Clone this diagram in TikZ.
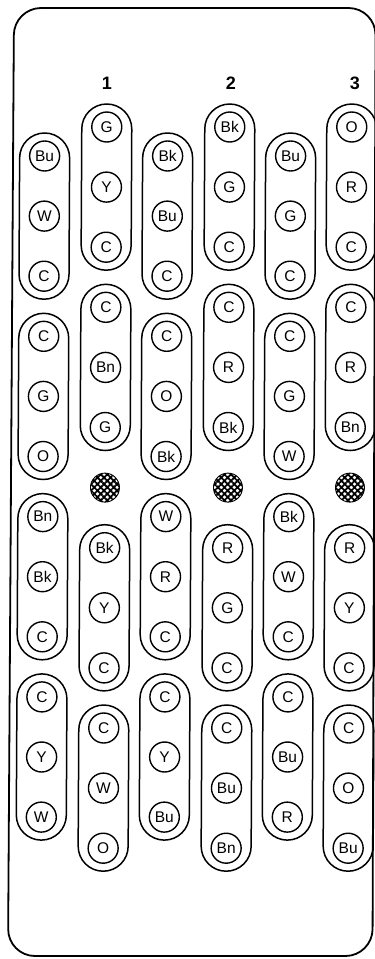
\documentclass[tikz,border=0pt]{standalone}
\usepackage{fontspec}
\setmainfont{Liberation Sans}
\usetikzlibrary{patterns.meta,calc}
\tikzset{
  lbl/.style={circle,draw,line width=1.4pt,minimum size=30pt,inner sep=0pt,font=\fontsize{15.5}{15.5}\selectfont},
  pill/.style={draw,line width=1.5pt},
  hatchdot/.style={circle,minimum size=29pt,inner sep=0pt,draw,line width=0.9pt,
    pattern={Hatch[angle=45,distance=4.6pt,line width=1.8pt]}},
  hdr/.style={font=\bfseries\fontsize{18}{18}\selectfont},
  frame/.style={line width=1.8pt,rounded corners=27pt}
}
\newcommand\pillpath[2]{%
  \draw[pill] let \p1=(#1), \p2=(#2) in
    (\x1-25pt,\y1-2pt) arc[start angle=180,end angle=0,radius=25pt]
    -- (\x2+25pt,\y2+2pt) arc[start angle=0,end angle=-180,radius=25pt] -- cycle;}
\begin{document}
\begin{tikzpicture}[x=1pt,y=-1pt]
\useasboundingbox (0,0) rectangle (375,959);
% outer housing
\draw[frame] (14,8) -- (8,956) -- (372.5,956) -- (375.6,8) -- cycle;
% column numbers
\node[hdr] (n1) at (107,83) {1};
\node[hdr] (n2) at (231,83) {2};
\node[hdr] (n3) at (355,83) {3};
% odd columns: 12 terminals, starting lower
\foreach \c/\bx/\ys/\list in {
  1/43/156/{Bu,W,C,C,G,O,Bn,Bk,C,C,Y,W},
  3/166/156/{Bk,Bu,C,C,O,Bk,W,R,C,C,Y,Bu},
  5/289/156/{Bu,G,C,C,G,W,Bk,W,C,C,Bu,R}}{
  \foreach \lab [count=\k from 0] in \list {
    \pgfmathsetmacro\yy{\ys+60.1*\k}
    \pgfmathsetmacro\xx{\bx-0.005*(\yy-480)}
    \node[lbl] (c\c-\k) at (\xx,\yy) {\lab};
  }
}
% even columns: 12 terminals plus a hatched plug in the middle
\foreach \c/\bx/\ys/\list in {
  2/105/127/{G,Y,C,C,Bn,G,Bk,Y,C,C,W,O},
  4/228/127/{Bk,G,C,C,R,Bk,R,G,C,C,Bu,Bn},
  6/350/127/{O,R,C,C,R,Bn,R,Y,C,C,O,Bu}}{
  \foreach \lab [count=\k from 0] in \list {
    \pgfmathsetmacro\pp{\k+(\k>5)}
    \pgfmathsetmacro\yy{\ys+60.1*\pp}
    \pgfmathsetmacro\xx{\bx-0.005*(\yy-480)}
    \node[lbl] (c\c-\k) at (\xx,\yy) {\lab};
  }
  \pgfmathsetmacro\yy{\ys+60.1*6}
  \pgfmathsetmacro\xx{\bx-0.005*(\yy-480)}
  \node[hatchdot] (h\c) at (\xx,\yy) {};
}
% connector housings (pills)
\foreach \c in {1,...,6}{
  \pillpath{c\c-0}{c\c-2}
  \pillpath{c\c-3}{c\c-5}
  \pillpath{c\c-6}{c\c-8}
  \pillpath{c\c-9}{c\c-11}
}
\end{tikzpicture}
\end{document}
